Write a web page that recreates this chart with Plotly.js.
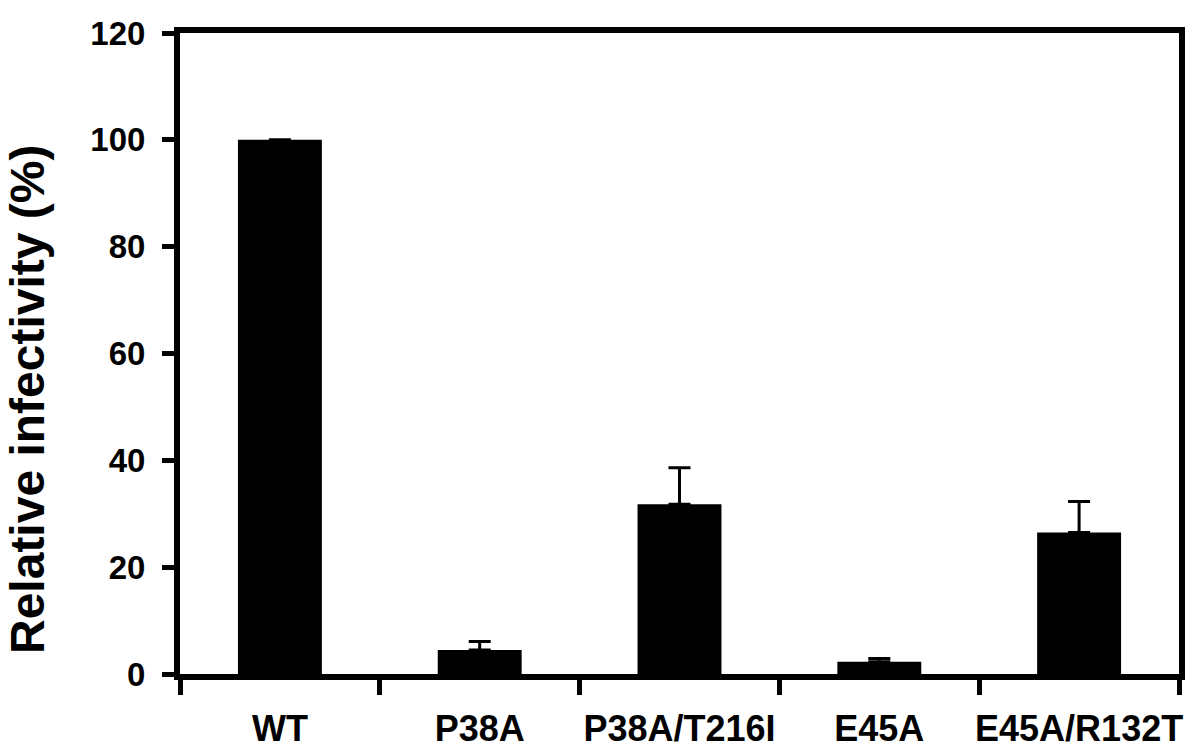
<!DOCTYPE html>
<html>
<head>
<meta charset="utf-8">
<script src="https://cdn.plot.ly/plotly-3.0.1.min.js"></script>
<style>html,body{margin:0;padding:0;background:#fff;}#chart{width:1200px;height:754px;}</style>
</head>
<body>
<div id="chart"></div>
<script>
const categories = ["WT", "P38A", "P38A/T216I", "E45A", "E45A/R132T"];
const infectivity = [100, 4.5, 31.8, 2.3, 26.5];
const errorUpper = [null, 1.6, 6.8, 0.6, 5.8];
const yTickValues = [0, 20, 40, 60, 80, 100, 120];
const yAxisTitle = "Relative infectivity (%)";

const FONT = "Liberation Sans, Arial, Helvetica, sans-serif";

const trace = {
  type: "bar",
  x: categories,
  y: infectivity,
  width: 0.42,
  marker: {color: "#000000", line: {width: 0}},
  error_y: {
    type: "data",
    symmetric: false,
    array: errorUpper,
    arrayminus: errorUpper.map(v => (v === null ? null : 0)),
    visible: true,
    color: "#000000",
    thickness: 3,
    width: 11
  },
  hoverinfo: "none"
};

const layout = {
  width: 1200,
  height: 754,
  margin: {l: 180, r: 21, t: 33, b: 80},
  paper_bgcolor: "#ffffff",
  plot_bgcolor: "#ffffff",
  showlegend: false,
  font: {family: FONT, color: "#000000"},
  xaxis: {
    type: "category",
    range: [-0.5, 4.5],
    showline: true, mirror: true, linecolor: "#000", linewidth: 6,
    ticks: "outside", tickson: "boundaries", ticklen: 15, tickwidth: 5, tickcolor: "#000",
    showgrid: false, zeroline: false,
    tickangle: 0,
    tickfont: {family: FONT, size: 36, color: "#000", weight: "bold"},
    ticklabelstandoff: 18
  },
  yaxis: {
    range: [0, 120],
    tickvals: yTickValues,
    ticktext: yTickValues.map(String),
    showline: true, mirror: true, linecolor: "#000", linewidth: 6,
    ticks: "outside", ticklen: 12, tickwidth: 5, tickcolor: "#000",
    showgrid: false, zeroline: false,
    tickfont: {family: FONT, size: 33, color: "#000", weight: "bold"},
    ticklabelstandoff: 10
  },
  annotations: [{
    text: yAxisTitle,
    xref: "paper", yref: "paper",
    x: (28 - 180) / 999, y: (674 - 400) / 641,
    xanchor: "center", yanchor: "middle",
    textangle: -90,
    showarrow: false,
    font: {family: FONT, size: 48, color: "#000", weight: "bold"}
  }]
};

Plotly.newPlot("chart", [trace], layout, {displayModeBar: false, staticPlot: true});
</script>
</body>
</html>
